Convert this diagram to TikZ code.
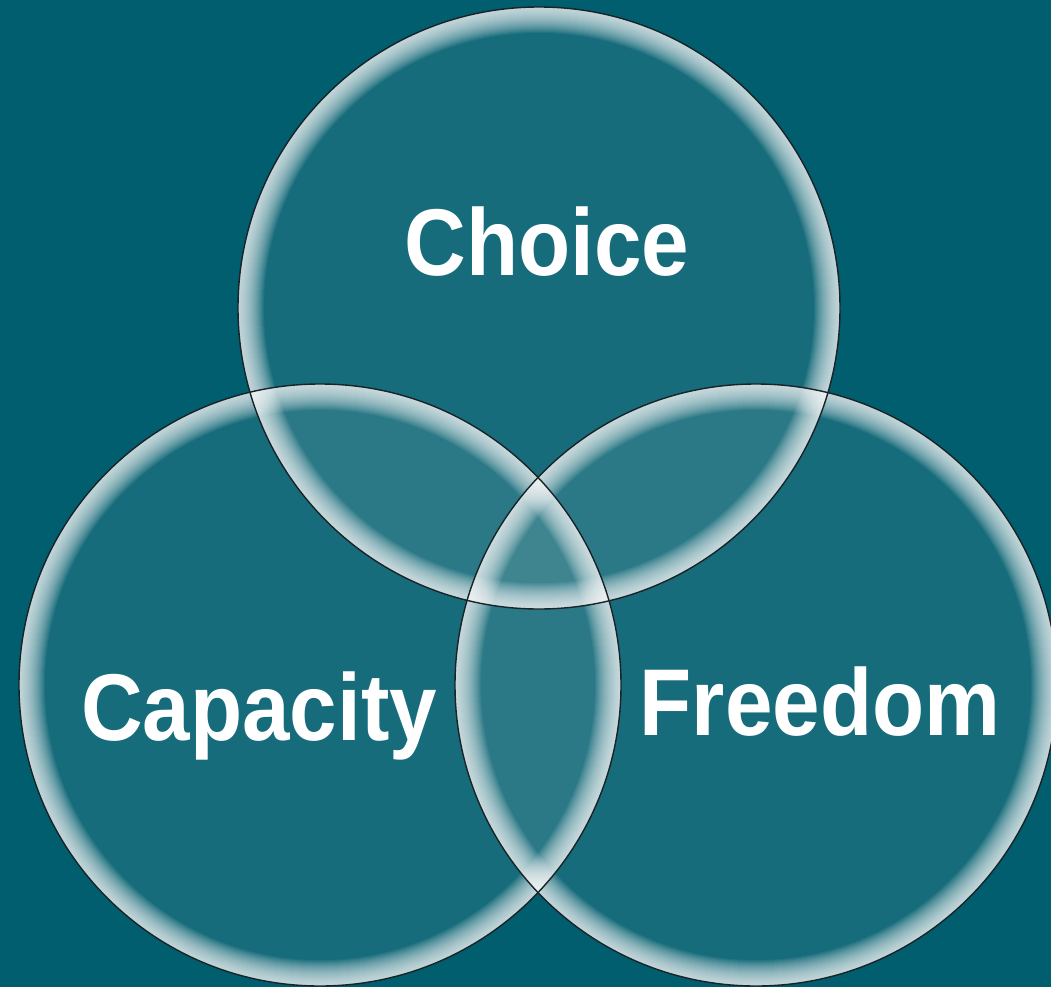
\documentclass[tikz,border=0pt]{standalone}
\usepackage{fontspec}
\setmainfont{Liberation Sans}[FakeStretch=0.9]
\usetikzlibrary{calc}
\definecolor{bgteal}{RGB}{0,94,110}
\definecolor{rimline}{RGB}{25,35,40}
\tikzset{
	word/.style={text=white, font=\fontsize{54}{54}\selectfont\bfseries, inner sep=0pt, anchor=base},
}
% one see-through disc with a soft white rim on the inside
\def\glowdisc(#1)(#2){
	\begin{scope}
		\clip (#1) circle (#2);
		\fill[white, opacity=0.09] (#1) circle (#2);
		\foreach \w in {1,...,26}
			\draw[white, opacity=0.055, line width=\w*1.134pt] (#1) circle (#2);
	\end{scope}
}

\begin{document}
\begin{tikzpicture}[x=0.02cm, y=-0.02cm]
			%%%%% START %%%%%
			
			\useasboundingbox (0, 0) rectangle (1051, 987);
			\clip (0, 0) rectangle (1051, 987);
			\fill[bgteal] (0, 0) rectangle (1051, 987);
			
			\coordinate (top) at (539, 308);
			\coordinate (left) at (320, 685);
			\coordinate (right) at (756, 685);
			
			\glowdisc(top)(301);
			\glowdisc(left)(301);
			\glowdisc(right)(301);
			
			\draw[rimline, line width=0.8pt] (top) circle (301);
			\draw[rimline, line width=0.8pt] (left) circle (301);
			\draw[rimline, line width=0.8pt] (right) circle (301);
			
			\node[word] (choice) at (547, 275) {Choice};
			\node[word] (capacity) at (259, 740) {Capacity};
			\node[word] (freedom) at (820, 735) {Freedom};
			
			%%%%% END %%%%%
		\end{tikzpicture}
\end{document}
